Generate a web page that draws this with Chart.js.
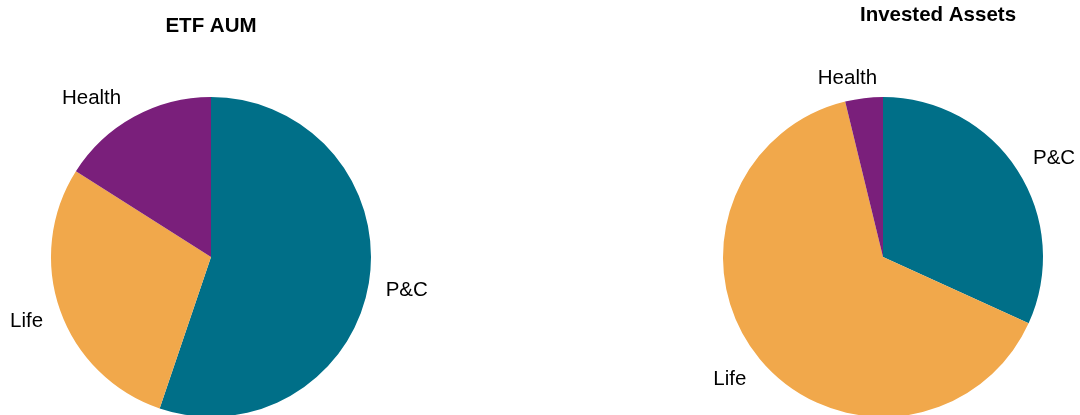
<!DOCTYPE html>
<html>
<head>
<meta charset="utf-8">
<script src="https://cdn.jsdelivr.net/npm/chart.js@4"></script>
<style>
  html, body { margin: 0; padding: 0; background: #fff; overflow: hidden; }
  body { width: 1080px; height: 415px; position: relative; }
  .panel { position: absolute; top: 0; width: 540px; height: 514px; }
</style>
</head>
<body>
<div class="panel" style="left:0"><canvas id="etfChart"></canvas></div>
<div class="panel" style="left:540px"><canvas id="investedChart"></canvas></div>
<script>
var categories = ['P&C', 'Life', 'Health'];
var etfAum = [55.2, 28.8, 16.0];
var investedAssets = [31.8, 64.4, 3.8];
var colors = ['#006F88', '#F1A84B', '#7A1F7B'];

var fontFamily = '"Liberation Sans", Arial, sans-serif';

// labels outside each slice (1.1 x radius, left/right aligned), small per-label nudges
var sliceLabels = {
  id: 'sliceLabels',
  afterDatasetsDraw(chart, args, opts) {
    var ctx = chart.ctx;
    var meta = chart.getDatasetMeta(0);
    var nudge = opts.nudge || {};
    ctx.save();
    ctx.font = '20.5px ' + fontFamily;
    ctx.fillStyle = '#000';
    ctx.textBaseline = 'middle';
    meta.data.forEach((arc, i) => {
      var label = chart.data.labels[i];
      var p = arc.getProps(['x', 'y', 'startAngle', 'endAngle', 'outerRadius'], true);
      var mid = (p.startAngle + p.endAngle) / 2;
      var n = nudge[label] || [0, 0];
      var tx = p.x + Math.cos(mid) * p.outerRadius * 1.1 + n[0];
      var ty = p.y + Math.sin(mid) * p.outerRadius * 1.1 + n[1];
      ctx.textAlign = Math.cos(mid) > 0 ? 'left' : 'right';
      ctx.fillText(label, tx, ty);
    });
    ctx.restore();
  }
};

var panelTitle = {
  id: 'panelTitle',
  afterDraw(chart, args, opts) {
    var ctx = chart.ctx;
    var arc = chart.getDatasetMeta(0).data[0];
    ctx.save();
    ctx.font = 'bold 20.5px ' + fontFamily;
    ctx.fillStyle = '#000';
    ctx.textAlign = 'center';
    ctx.textBaseline = 'middle';
    ctx.fillText(opts.text, arc.x + opts.dx, opts.y);
    ctx.restore();
  }
};

function drawPie(id, values, title, padding, nudge) {
  new Chart(document.getElementById(id), {
    type: 'pie',
    data: {
      labels: categories,
      datasets: [
        {
          data: values,
          backgroundColor: colors,
          borderWidth: 0
        }
      ]
    },
    options: {
      responsive: false,
      animation: false,
      radius: 160,
      layout: { padding: padding },
      plugins: {
        legend: { display: false },
        tooltip: { enabled: false },
        panelTitle: title,
        sliceLabels: { nudge: nudge }
      }
    },
    plugins: [sliceLabels, panelTitle]
  });
}

var c1 = document.getElementById('etfChart');
c1.width = 540; c1.height = 514;
var c2 = document.getElementById('investedChart');
c2.width = 540; c2.height = 514;

drawPie('etfChart', etfAum, { text: 'ETF AUM', dx: 0, y: 26 },
  { left: 0, right: 118, top: 0, bottom: 0 },
  { 'P&C': [1, 5], 'Life': [-2, 6], 'Health': [-5, -4] });
drawPie('investedChart', investedAssets, { text: 'Invested Assets', dx: 55, y: 15 },
  { left: 146, right: 0, top: 0, bottom: 0 },
  { 'P&C': [2, -3], 'Life': [-1, 10], 'Health': [15, -4] });
</script>
</body>
</html>
